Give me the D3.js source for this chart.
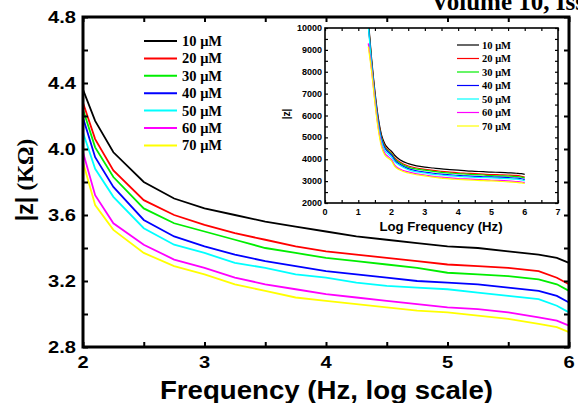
<!DOCTYPE html>
<html>
<head>
<meta charset="utf-8">
<script src="https://cdn.jsdelivr.net/npm/d3@7"></script>
<style>
  body { margin: 0; background: #fff; }
  svg { display: block; }
</style>
</head>
<body>
<svg id="chart" width="578" height="403"></svg>
<script>
// concentrations and colours
var labels = ["10 \u03bcM", "20 \u03bcM", "30 \u03bcM", "40 \u03bcM", "50 \u03bcM", "60 \u03bcM", "70 \u03bcM"];
var colors = ["#000000", "#ff0000", "#00ee00", "#0000ff", "#00ffff", "#ff00ff", "#ffff00"];

// log frequency points (main plot)
var logF = [2, 2.1, 2.25, 2.5, 2.75, 3, 3.25, 3.5, 3.75, 4, 4.25, 4.5, 4.75, 5, 5.25, 5.5, 5.75, 5.9, 6];

// |z| in kOhm
var z10 = [4.36, 4.17, 3.98, 3.80, 3.70, 3.64, 3.60, 3.56, 3.53, 3.50, 3.47, 3.45, 3.43, 3.41, 3.40, 3.38, 3.36, 3.34, 3.31];
var z20 = [4.28, 4.06, 3.87, 3.69, 3.60, 3.54, 3.49, 3.45, 3.41, 3.38, 3.36, 3.34, 3.32, 3.30, 3.29, 3.28, 3.26, 3.22, 3.18];
var z30 = [4.24, 4.01, 3.83, 3.64, 3.55, 3.50, 3.45, 3.40, 3.37, 3.34, 3.32, 3.30, 3.28, 3.25, 3.24, 3.23, 3.21, 3.18, 3.14];
var z40 = [4.19, 3.95, 3.77, 3.57, 3.47, 3.41, 3.36, 3.32, 3.29, 3.26, 3.24, 3.22, 3.20, 3.19, 3.18, 3.16, 3.14, 3.11, 3.07];
var z50 = [4.10, 3.88, 3.71, 3.52, 3.42, 3.37, 3.31, 3.28, 3.24, 3.22, 3.19, 3.17, 3.16, 3.15, 3.13, 3.11, 3.09, 3.05, 3.01];
var z60 = [3.98, 3.72, 3.55, 3.42, 3.33, 3.28, 3.22, 3.18, 3.15, 3.12, 3.10, 3.08, 3.06, 3.04, 3.03, 3.01, 2.98, 2.96, 2.93];
var z70 = [3.92, 3.66, 3.51, 3.37, 3.29, 3.24, 3.18, 3.14, 3.10, 3.08, 3.06, 3.04, 3.02, 3.01, 2.99, 2.97, 2.94, 2.92, 2.89];

// inset: low frequency part in Ohm (the rest comes from the main data)
var lowLogF = [1.3, 1.4, 1.5, 1.6, 1.7, 1.8, 1.9];
var low10 = [10400, 8600, 7100, 5900, 5100, 4700, 4500];
var low20 = [10300, 8500, 7000, 5800, 5000, 4600, 4420];
var low30 = [10250, 8450, 6950, 5750, 4950, 4550, 4380];
var low40 = [10200, 8400, 6900, 5700, 4900, 4500, 4330];
var low50 = [10100, 8300, 6800, 5600, 4800, 4400, 4240];
var low60 = [9300, 8100, 6650, 5450, 4650, 4270, 4120];
var low70 = [9150, 8000, 6550, 5350, 4550, 4180, 4050];

var mainTicksY = [2.8, 3.2, 3.6, 4.0, 4.4, 4.8];
var mainTicksX = [2, 3, 4, 5, 6];
var insetTicksY = [2000, 3000, 4000, 5000, 6000, 7000, 8000, 9000, 10000];
var insetTicksX = [0, 1, 2, 3, 4, 5, 6, 7];

var series = [z10, z20, z30, z40, z50, z60, z70];
var lows = [low10, low20, low30, low40, low50, low60, low70];

var svg = d3.select("#chart");

// ---------- main plot ----------
var x = d3.scaleLinear().domain([2, 6]).range([83, 569]);
var y = d3.scaleLinear().domain([2.8, 4.8]).range([347, 17]);

var line = d3.line()
    .x(function(d) { return x(d[0]); })
    .y(function(d) { return y(d[1]); });

var main = svg.append("g");

series.forEach(function(s, i) {
    main.append("path")
        .datum(logF.map(function(f, j) { return [f, s[j]]; }))
        .attr("d", line)
        .attr("fill", "none")
        .attr("stroke", colors[i])
        .attr("stroke-width", 1.8);
});

// axes (ticks inward)
main.append("g").attr("transform", "translate(0,347)")
    .call(d3.axisBottom(x).tickValues(d3.range(2, 6.01, 0.5)).tickSize(-5).tickFormat(""));
main.append("g").attr("transform", "translate(0,17)")
    .call(d3.axisTop(x).tickValues(d3.range(2, 6.01, 0.5)).tickSize(-5).tickFormat(""));
main.append("g").attr("transform", "translate(83,0)")
    .call(d3.axisLeft(y).tickValues(d3.range(2.8, 4.81, 0.2)).tickSize(-5).tickFormat(""));
main.append("g").attr("transform", "translate(569,0)")
    .call(d3.axisRight(y).tickValues(d3.range(2.8, 4.81, 0.2)).tickSize(-5).tickFormat(""));
main.selectAll(".domain").remove();
main.selectAll(".tick line").attr("stroke", "#000").attr("stroke-width", 2);

main.append("rect")
    .attr("x", x(2)).attr("y", y(4.8))
    .attr("width", x(6) - x(2)).attr("height", y(2.8) - y(4.8))
    .attr("fill", "none").attr("stroke", "#000").attr("stroke-width", 3);

// tick labels are a bit wide in the original, so stretch them
main.selectAll(".ylab").data(mainTicksY).enter().append("text")
    .attr("transform", function(d) { return "translate(76," + (y(d) + 6) + ") scale(1.22,1)"; })
    .attr("text-anchor", "end")
    .style("font", "bold 16.5px Arial, 'Liberation Sans', sans-serif")
    .text(function(d) { return d.toFixed(1); });

main.selectAll(".xlab").data(mainTicksX).enter().append("text")
    .attr("transform", function(d) { return "translate(" + x(d) + ",368) scale(1.22,1)"; })
    .attr("text-anchor", "middle")
    .style("font", "bold 16.5px Arial, 'Liberation Sans', sans-serif")
    .text(function(d) { return d; });

svg.append("text")
    .attr("x", 160).attr("y", 399)
    .attr("textLength", 333).attr("lengthAdjust", "spacingAndGlyphs")
    .style("font", "bold 25px Arial, 'Liberation Sans', sans-serif")
    .text("Frequency (Hz, log scale)");

var yt = svg.append("text")
    .attr("transform", "translate(33,180) rotate(-90)")
    .attr("text-anchor", "middle")
    .style("font", "bold 23px Arial, 'Liberation Sans', sans-serif");
yt.append("tspan").text("|z| ");
yt.append("tspan").style("font-family", "'Liberation Serif', 'Times New Roman', serif").text("(K\u03a9)");

// main legend
var leg = svg.append("g");
labels.forEach(function(l, i) {
    var ly = 41 + i * 17.4;
    leg.append("line").attr("x1", 144).attr("x2", 177).attr("y1", ly).attr("y2", ly)
        .attr("stroke", colors[i]).attr("stroke-width", 2);
    leg.append("text").attr("x", 182).attr("y", ly + 5)
        .style("font", "bold 14.5px 'Liberation Serif', 'Times New Roman', serif")
        .text(l);
});

// top right header, cut off
svg.append("text")
    .attr("x", 431).attr("y", 10)
    .style("font", "bold 25px 'Liberation Serif', 'Times New Roman', serif")
    .text("Volume 10, Issue");

// ---------- inset ----------
var xi = d3.scaleLinear().domain([0, 7]).range([325, 558]);
var yi = d3.scaleLinear().domain([2000, 10000]).range([203, 28]);

var inset = svg.append("g");
inset.append("clipPath").attr("id", "iclip").append("rect")
    .attr("x", 325).attr("y", 28).attr("width", 233).attr("height", 175);

var iline = d3.line()
    .x(function(d) { return xi(d[0]); })
    .y(function(d) { return yi(d[1]); })
    .curve(d3.curveMonotoneX);

series.forEach(function(s, i) {
    var pts = lowLogF.map(function(f, j) { return [f, lows[i][j]]; })
        .concat(logF.map(function(f, j) { return [f, s[j] * 1000]; }));
    inset.append("path")
        .datum(pts)
        .attr("d", iline)
        .attr("clip-path", "url(#iclip)")
        .attr("fill", "none")
        .attr("stroke", colors[i])
        .attr("stroke-width", 1.2);
});

var ig = inset.append("g");
ig.append("g").attr("transform", "translate(0,203)")
    .call(d3.axisBottom(xi).tickValues(d3.range(0, 7.01, 0.5)).tickSize(-3).tickFormat(""));
ig.append("g").attr("transform", "translate(0,28)")
    .call(d3.axisTop(xi).tickValues(d3.range(0, 7.01, 0.5)).tickSize(-3).tickFormat(""));
ig.append("g").attr("transform", "translate(325,0)")
    .call(d3.axisLeft(yi).tickValues(d3.range(2000, 10001, 500)).tickSize(-3).tickFormat(""));
ig.append("g").attr("transform", "translate(558,0)")
    .call(d3.axisRight(yi).tickValues(d3.range(2000, 10001, 500)).tickSize(-3).tickFormat(""));
ig.selectAll(".domain").remove();
ig.selectAll(".tick line").attr("stroke", "#000").attr("stroke-width", 1.2);

inset.append("rect")
    .attr("x", 325).attr("y", 28).attr("width", 233).attr("height", 175)
    .attr("fill", "none").attr("stroke", "#000").attr("stroke-width", 1.6);

inset.selectAll(".iy").data(insetTicksY).enter().append("text")
    .attr("x", 322).attr("y", function(d) { return yi(d) + 3; })
    .attr("text-anchor", "end")
    .style("font", "bold 9px Arial, 'Liberation Sans', sans-serif")
    .text(function(d) { return d; });

inset.selectAll(".ix").data(insetTicksX).enter().append("text")
    .attr("x", function(d) { return xi(d); }).attr("y", 215)
    .attr("text-anchor", "middle")
    .style("font", "bold 9px Arial, 'Liberation Sans', sans-serif")
    .text(function(d) { return d; });

inset.append("text")
    .attr("x", 441).attr("y", 231)
    .attr("text-anchor", "middle")
    .style("font", "bold 13.2px Arial, 'Liberation Sans', sans-serif")
    .text("Log Frequency (Hz)");

inset.append("text")
    .attr("transform", "translate(290,114) rotate(-90)")
    .attr("text-anchor", "middle")
    .style("font", "bold 10px Arial, 'Liberation Sans', sans-serif")
    .text("|z|");

labels.forEach(function(l, i) {
    var ly = 45 + i * 13.5;
    inset.append("line").attr("x1", 457).attr("x2", 479).attr("y1", ly).attr("y2", ly)
        .attr("stroke", colors[i]).attr("stroke-width", 1.2);
    inset.append("text").attr("x", 482).attr("y", ly + 3.5)
        .style("font", "bold 10.5px 'Liberation Serif', 'Times New Roman', serif")
        .text(l);
});
</script>
</body>
</html>
